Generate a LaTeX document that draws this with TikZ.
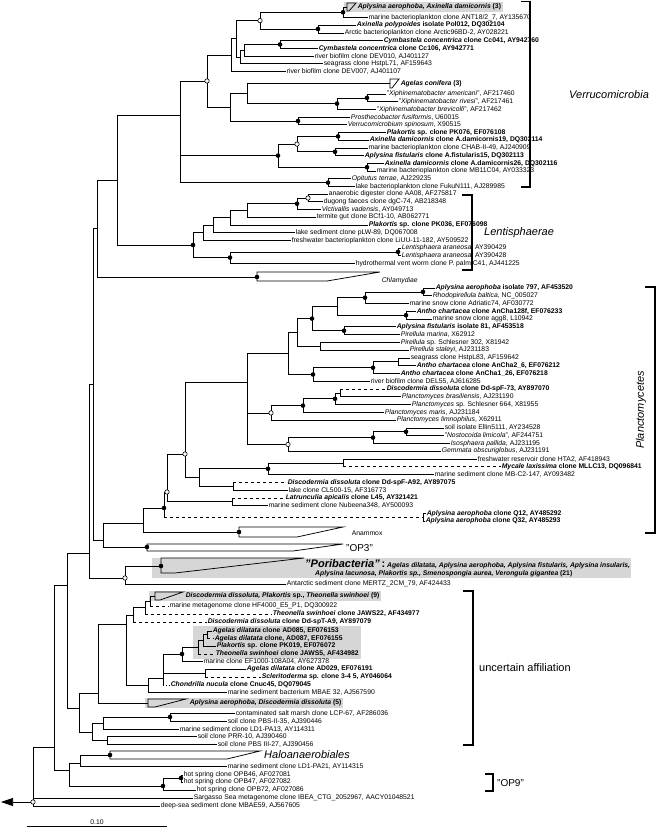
\documentclass[tikz,border=0pt]{standalone}
\usepackage{fontspec}
\setmainfont{Liberation Sans}
\usetikzlibrary{arrows.meta,fit,backgrounds}
\newcommand{\lbl}{\fontsize{6.8}{7.5}\selectfont}
\newcommand{\grpf}{\fontsize{11}{13}\selectfont}
\newcommand{\sponge}[2]{\textbf{\textit{#1}#2}}
\newcommand{\leaf}[5]{\coordinate (#1) at (#3,#4);\draw[br] (#2) |- (#1);\node[lab] (#1l) at (#1) {#5};}
\newcommand{\sleaf}[6]{\coordinate (#2) at (#4,#5);\draw[br] (#3) -- (#3|-#2);\draw[br,#1] (#3|-#2) -- (#2);\node[lab] (#2l) at (#2) {#6};}
\newcommand{\inode}[4]{\coordinate (#1) at (#3,#4);\draw[br] (#2) |- (#1);}
\newcommand{\clade}[8]{\coordinate (#1) at (#3,#8);\draw[br] (#2) |- (#1);\draw[cl] (#3,#4) -- (#7,#4) -- (#6,#5) -- (#3,#5) -- cycle;}
\begin{document}
\begin{tikzpicture}[x=1pt,y=-1pt,
 br/.style={line width=0.75pt},
 cl/.style={line width=0.75pt,line join=miter},
 lab/.style={anchor=west,inner sep=0.6pt,font=\lbl},
 ndot/.style={circle,fill=black,inner sep=0pt,minimum size=4.6pt},
 odot/.style={circle,draw=black,fill=white,line width=0.6pt,inner sep=0pt,minimum size=4.4pt},
 brk/.style={line width=1.3pt},
 grp/.style={inner sep=0pt,font=\grpf},
 hl/.style={fill=black!16,inner sep=1pt}]
\useasboundingbox (0,0) rectangle (664,830);
% ---------- backbone ----------
\coordinate (root) at (33,802);
\inode{N54}{root}{54}{747}
\leaf{sarg}{root}{193}{798}{Sargasso Sea metagenome clone IBEA\_CTG\_2052967, AACY01048521}
\leaf{deep}{root}{160}{806}{deep-sea sediment clone MBAE59, AJ567605}
\coordinate (arr) at (1,802);
\draw[br,-{Triangle[length=12pt,width=8pt]}] (root) -- (arr);
\inode{V}{N54}{67}{585}
\inode{HO}{N54}{69}{770}
\inode{U}{V}{89}{553}
\inode{W}{V}{79}{708}
\inode{S}{U}{93}{384}
\inode{T}{U}{125}{578}
\inode{C2}{S}{97}{228}
\inode{R}{S}{103}{540}
\inode{C1}{C2}{117}{180}
\clade{chl}{C2}{257}{272}{281}{327}{380}{277}
\node[lab] (chll) at (381,281) {\textit{Chlamydiae}};
\inode{VN}{C1}{180}{115}
\inode{L0}{C1}{193}{245}
% ---------- Verrucomicrobia ----------
\inode{I}{VN}{207}{81}
\inode{M5}{VN}{278}{155.6}
\inode{M6}{VN}{328}{182.6}
\inode{H}{I}{231}{55}
\inode{J}{I}{230}{107}
\inode{E}{H}{236}{38.8}
\leaf{v9}{H}{286}{71.4}{river biofilm clone DEV007, AJ401107}
\inode{N1}{E}{260}{20.6}
\inode{F}{E}{240}{57}
\inode{A}{N1}{343}{12.3}
\inode{B}{N1}{318}{29}
\clade{v1}{A}{347}{3}{11}{349}{356}{7}
\node[lab] (v1l) at (357,7) {\textbf{\textit{Aplysina aerophoba, Axinella damicornis} (3)}};
\leaf{v2}{A}{368}{17.5}{marine bacterioplankton clone ANT18/2\_7, AY135670}
\leaf{v3}{B}{356}{25.2}{\sponge{Axinella polypoides}{ isolate Pol012, DQ302104}}
\leaf{v4}{B}{344}{32.9}{Arctic bacterioplankton clone Arctic96BD-2, AY028221}
\inode{G}{F}{244}{50}
\leaf{v8}{F}{323}{63.7}{seagrass clone HstpL71, AF159643}
\inode{Cy}{G}{280}{44.5}
\leaf{v7}{G}{314}{56}{river biofilm clone DEV010, AJ401127}
\leaf{v5}{Cy}{383}{40.6}{\sponge{Cymbastela concentrica}{ clone Cc041, AY942760}}
\leaf{v6}{Cy}{318}{48.3}{\sponge{Cymbastela concentrica}{ clone Cc106, AY942771}}
\inode{K}{J}{247}{93.5}
\inode{Pr}{J}{298}{121}
\clade{v10}{K}{390}{79}{88}{392}{399}{83.5}
\node[lab] (v10l) at (400,83.5) {\textbf{\textit{Agelas conifera} (3)}};
\inode{Xb}{K}{337}{103.6}
\inode{Xa}{Xb}{367}{97.9}
\leaf{v11}{Xa}{386}{94}{"\textit{Xiphinematobacter americani}", AF217460}
\leaf{v12}{Xa}{398}{101.7}{"\textit{Xiphinematobacter rivesi}", AF217461}
\leaf{v13}{Xb}{376}{109.4}{"\textit{Xiphinematobacter brevicolli}", AF217462}
\leaf{v14}{Pr}{350}{117.1}{\textit{Prosthecobacter fusiformis}, U60015}
\leaf{v15}{Pr}{347}{124.8}{\textit{Verrucomicrobium spinosum}, X90515}
\inode{M3}{M5}{297}{144.1}
\inode{M4}{M5}{367}{167.2}
\inode{M1}{M3}{338}{136.4}
\inode{M2}{M3}{335}{151.8}
\leaf{v16}{M1}{386}{132.5}{\sponge{Plakortis}{ sp. clone PK076, EF076108}}
\leaf{v17}{M1}{369}{140.2}{\sponge{Axinella damicornis}{ clone A.damicornis19, DQ302114}}
\leaf{v18}{M2}{368}{147.9}{marine bacterioplankton clone CHAB-II-49, AJ240909}
\leaf{v19}{M2}{364}{155.6}{\sponge{Aplysina fistularis}{ clone A.fistularis15, DQ302113}}
\leaf{v20}{M4}{384}{163.3}{\sponge{Axinella damicornis}{ clone A.damicornis26, DQ302116}}
\leaf{v21}{M4}{376}{171}{marine bacterioplankton clone MB11C04, AY033323}
\leaf{v22}{M6}{351}{178.7}{\textit{Opitutus terrae}, AJ229235}
\leaf{v23}{M6}{355}{186.4}{lake bacterioplankton clone FukuN111, AJ289985}
% ---------- Lentisphaerae ----------
\inode{L1}{L0}{203}{232.7}
\inode{L9}{L0}{230}{257.6}
\inode{L2}{L1}{213}{225}
\leaf{w7}{L1}{291}{240.3}{freshwater bacterioplankton clone LiUU-11-182, AY509522}
\inode{L3}{L2}{230}{217.7}
\leaf{w6}{L2}{295}{232.6}{lake sediment clone pLW-89, DQ067008}
\inode{L4}{L3}{247}{210.5}
\leaf{w5}{L3}{368}{224.9}{\sponge{Plakortis}{ sp. clone PK036, EF076098}}
\inode{L5}{L4}{297}{203.7}
\leaf{w4}{L4}{316}{217.2}{termite gut clone BCf1-10, AB062771}
\inode{L6}{L5}{308}{198}
\leaf{w3}{L5}{321}{209.5}{\textit{Victivallis vadensis}, AY049713}
\leaf{w1}{L6}{328}{194.1}{anaerobic digester clone AA08, AF275817}
\leaf{w2}{L6}{323}{201.8}{dugong faeces clone dgC-74, AB218348}
\inode{Ln}{L9}{398}{251.9}
\leaf{w10}{L9}{355}{263.4}{hydrothermal vent worm clone P. palm C41, AJ441225}
\leaf{w8}{Ln}{401}{248}{\textit{Lentisphaera araneosa}, AY390429}
\leaf{w9}{Ln}{401}{255.7}{\textit{Lentisphaera araneosa}, AY390428}
% ---------- Planctomycetes ----------
\inode{P}{R}{143}{523}
\clade{op3}{R}{147}{544}{551}{293}{343}{547}
\node[inner sep=0pt,anchor=west,font=\fontsize{10}{12}\selectfont] (op3l) at (346,548) {"OP3"};
\inode{Q}{P}{164}{508}
\clade{anx}{P}{239}{527}{537}{297}{343}{532}
\node[lab] (anxl) at (351,533) {Anammox};
\inode{Q1}{Q}{167}{492}
\coordinate (Qa) at (423,517.4);
\draw[br] (Q) -- (Q|-Qa);
\draw[br,dashed] (Q|-Qa) -- (Qa);
\leaf{p30}{Qa}{426}{513.5}{\sponge{Aplysina aerophoba}{ clone Q12, AY485292}}
\leaf{p31}{Qa}{425}{521.2}{\sponge{Aplysina aerophoba}{ clone Q32, AY485293}}
\inode{PY}{Q1}{185}{454}
\inode{LL}{Q1}{232}{501.8}
\sleaf{dashed}{p28}{LL}{285}{497.9}{\sponge{Latrunculia apicalis}{ clone L45, AY321421}}
\leaf{p29}{LL}{268}{505.7}{marine sediment clone Nubeena348, AY500093}
\inode{PX}{PY}{247}{382}
\inode{PZ}{PY}{199}{477.5}
\inode{H1}{PZ}{268}{468.8}
\inode{AA}{PZ}{233}{486.3}
\inode{H2}{H1}{343}{462.9}
\leaf{p25}{H1}{434}{474.6}{marine sediment clone MB-C2-147, AY093482}
\leaf{p23}{H2}{477}{459}{freshwater reservoir clone HTA2, AF418943}
\sleaf{dashed}{p24}{H2}{501}{466.8}{\sponge{Mycale laxissima}{ clone MLLC13, DQ096841}}
\sleaf{dashed}{p26}{AA}{287}{482.4}{\sponge{Discodermia dissoluta}{ clone Dd-spF-A92, AY897075}}
\leaf{p27}{AA}{288}{490.1}{lake clone CL500-15, AF316773}
\inode{PR12}{PX}{288}{353.5}
\inode{PL4}{PX}{271}{412.9}
\inode{G1}{PX}{288}{444.4}
\inode{PR8}{PR12}{297}{332.5}
\inode{PR11}{PR12}{313}{374.5}
\inode{PR6}{PR8}{312}{318.6}
\inode{PR7}{PR8}{320}{346.3}
\inode{PR4}{PR6}{337}{306.5}
\inode{PR5}{PR6}{344}{330.7}
\inode{PR2}{PR4}{365}{297.7}
\inode{PR3}{PR4}{406}{315.2}
\inode{PR1}{PR2}{423}{291.9}
\leaf{p1}{PR1}{435}{288}{\sponge{Aplysina aerophoba}{ isolate 797, AF453520}}
\leaf{p2}{PR1}{432}{295.8}{\textit{Rhodopirellula baltica}, NC\_005027}
\leaf{p3}{PR2}{409}{303.5}{marine snow clone Adriatic74, AF030772}
\leaf{p4}{PR3}{416}{311.3}{\sponge{Antho chartacea}{ clone AnCha128f, EF076233}}
\leaf{p5}{PR3}{432}{319}{marine snow clone agg8, L10942}
\leaf{p6}{PR5}{396}{326.8}{\sponge{Aplysina fistularis}{ isolate 81, AF453518}}
\leaf{p7}{PR5}{400}{334.6}{\textit{Pirellula marina}, X62912}
\leaf{p8}{PR7}{400}{342.4}{\textit{Pirellula} sp. Schlesner 302, X81942}
\leaf{p9}{PR7}{409}{350.2}{\textit{Pirellula staleyi}, AJ231183}
\inode{PR10}{PR11}{373}{367.7}
\leaf{p13}{PR11}{370}{381.2}{river biofilm clone DEL55, AJ616285}
\inode{PR9}{PR10}{398}{361.8}
\leaf{p12}{PR10}{400}{373.5}{\sponge{Antho chartacea}{ clone AnCha1\_26, EF076218}}
\leaf{p10}{PR9}{410}{357.9}{seagrass clone HstpL83, AF159642}
\leaf{p11}{PR9}{416}{365.7}{\sponge{Antho chartacea}{ clone AnCha2\_6, EF076212}}
\inode{PL3}{PL4}{303}{405.6}
\leaf{p18}{PL4}{396}{420.1}{\textit{Planctomyces limnophilus}, X62911}
\inode{PL2}{PL3}{335}{398.8}
\leaf{p17}{PL3}{384}{412.4}{\textit{Planctomyces maris}, AJ231184}
\inode{PL1}{PL2}{340}{392.9}
\leaf{p16}{PL2}{411}{404.6}{\textit{Planctomyces} sp. Schlesner 664, X81955}
\sleaf{dashed}{p14}{PL1}{386}{389}{\sponge{Discodermia dissoluta}{ clone Dd-spF-73, AY897070}}
\leaf{p15}{PL1}{401}{396.8}{\textit{Planctomyces brasiliensis}, AJ231190}
\inode{G2}{G1}{373}{437.6}
\leaf{p22}{G1}{441}{451.2}{\textit{Gemmata obscuriglobus}, AJ231191}
\inode{G3}{G2}{406}{431.8}
\leaf{p21}{G2}{450}{443.4}{\textit{Isosphaera pallida}, AJ231195}
\leaf{p19}{G3}{444}{427.9}{soil isolate Ellin5111, AY234528}
\leaf{p20}{G3}{444}{435.7}{"\textit{Nostocoida limicola}", AF244751}
% ---------- Poribacteria ----------
\clade{pori}{T}{161}{558}{573}{175}{304}{566}
\node[anchor=west,inner sep=0pt] (poril) at (305,564) {\fontsize{11}{12}\selectfont\bfseries\itshape "Poribacteria"\upshape\,:\,\lbl\itshape Agelas dilatata, Aplysina aerophoba, Aplysina fistularis, Aplysina insularis,};
\node[anchor=west,inner sep=0pt] (pori2) at (315,573.5) {\lbl\bfseries\itshape Aplysina lacunosa, Plakortis sp., Smenospongia aurea, Verongula gigantea \upshape(21)};
\leaf{ant}{T}{286}{584}{Antarctic sediment clone MERTZ\_2CM\_79, AF424433}
% ---------- uncertain affiliation ----------
\inode{X}{W}{98}{693}
\inode{Y}{W}{92}{732}
\inode{Z3}{X}{126}{624}
\clade{apl5}{X}{148}{699}{707}{155}{186}{703}
\node[lab] (apl5l) at (189,703) {\textbf{\textit{Aplysina aerophoba, Discodermia dissoluta} (5)}};
\inode{ND2}{Z3}{133}{615}
\inode{Z2}{Z3}{148}{685}
\inode{ND1}{ND2}{145}{607.5}
\sleaf{dashed}{u3}{ND2}{207}{622}{\sponge{Discodermia dissoluta}{ clone Dd-spT-A9, AY897079}}
\inode{ND0}{ND1}{150}{601}
\sleaf{dashed}{u2}{ND1}{272}{614}{\sponge{Theonella swinhoei}{ clone JAWS22, AF434977}}
\clade{disc9}{ND0}{155}{592}{600}{160}{183}{596}
\node[lab] (disc9l) at (185,596) {\textbf{\textit{Discodermia dissoluta, Plakortis} sp., \textit{Theonella swinhoei} (9)}};
\sleaf{dashed}{u1}{ND0}{169}{606}{marine metagenome clone HF4000\_E5\_P1, DQ300922}
\inode{Z1}{Z2}{163}{678}
\leaf{u13}{Z2}{227}{692}{marine sediment bacterium MBAE 32, AJ567590}
\inode{A4}{Z1}{182}{654}
\inode{B1}{Z1}{205}{673}
\sleaf{dotted}{u12}{Z1}{170}{685}{\sponge{Chondrilla nucula}{ clone Cnuc45, DQ079045}}
\inode{A3}{A4}{198}{647}
\leaf{u9}{A4}{203}{661.5}{marine clone EF1000-108A04, AY627378}
\inode{A2}{A3}{203}{640.5}
\sleaf{dashed}{u8}{A3}{215}{654}{\sponge{Theonella swinhoei}{ clone JAWS5, AF434982}}
\inode{A1}{A2}{207}{634.8}
\leaf{u7}{A2}{216}{646.2}{\sponge{Plakortis}{ sp. clone PK019, EF076072}}
\leaf{u5}{A1}{212}{631}{\sponge{Agelas dilatata}{ clone AD085, EF076153}}
\sleaf{dashed}{u6}{A1}{214}{638.5}{\sponge{Agelas dilatata}{ clone, AD087, EF076155}}
\leaf{u10}{B1}{246}{669}{\sponge{Agelas dilatata}{ clone AD029, EF076191}}
\sleaf{dashed}{u11}{B1}{261}{677}{\sponge{Scleritoderma}{ sp. clone 3-4 5, AY046064}}
\inode{Y1}{Y}{103}{723}
\inode{Y2}{Y}{107}{740}
\inode{Yc}{Y1}{170}{717}
\leaf{u16}{Y1}{179}{729}{marine sediment clone LD1-PA13, AY114311}
\leaf{u14}{Yc}{235}{713}{contaminated salt marsh clone LCP-67, AF286036}
\leaf{u15}{Yc}{227}{721}{soil clone PBS-II-35, AJ390446}
\leaf{u17}{Y2}{197}{736}{soil clone PRR-10, AJ390460}
\leaf{u18}{Y2}{217}{744}{soil clone PBS III-27, AJ390456}
% ---------- Haloanaerobiales, OP9 ----------
\inode{HN}{HO}{80}{763}
\inode{OP2}{HO}{163}{786}
\clade{halo}{HN}{110}{751}{759}{227}{260}{755}
\node[grp,anchor=west] (halol) at (264,755) {\textit{Haloanaerobiales}};
\leaf{h1}{HN}{227}{766}{marine sediment clone LD1-PA21, AY114315}
\inode{OP1}{OP2}{181}{778}
\leaf{o3}{OP2}{196}{790}{hot spring clone OPB72, AF027086}
\leaf{o1}{OP1}{183}{775}{hot spring clone OPB46, AF027081}
\leaf{o2}{OP1}{183}{782}{hot spring clone OPB47, AF027082}
% ---------- highlight boxes ----------
\begin{scope}[on background layer]
\coordinate (hb1) at (345,7);
\node[hl,fit=(hb1)(v1l)] (box1) {};
\coordinate (hb2) at (153,566);
\node[hl,fit=(hb2)(poril)(pori2)] (box2) {};
\coordinate (hb3) at (150,596);
\node[hl,fit=(hb3)(disc9l)] (box3) {};
\coordinate (hb4) at (194,628);
\coordinate (hb5) at (194,657);
\node[hl,fit=(hb4)(hb5)(u5l)(u6l)(u7l)(u8l)] (box4) {};
\coordinate (hb6) at (146,703);
\node[hl,fit=(hb6)(apl5l)] (box5) {};
\end{scope}
% ---------- node markers ----------
\foreach \n in {A,B,Cy,Xa,Xb,Pr,M1,M2,M4,M5,M6,L5,Ln,L9,L0,PR1,PR2,PR3,PR5,PR6,PR10,PR11,PL2,PL3,G3,G2,H1,Q,A4,OP1,OP2,Yc,chl,anx,op3,pori,halo}
  \node[ndot] (d\n) at (\n) {};
\foreach \n in {N1,I,M3,L6,PL4,G1,PY,Q1,T,root}
  \node[odot] (o\n) at (\n) {};
% ---------- brackets and group labels ----------
\draw[brk] (521,1.5) -- (530,1.5) -- (530,187) -- (521,187);
\node[grp,anchor=west] (verl) at (569,95) {\textit{Verrucomicrobia}};
\draw[brk] (462,195) -- (472,195) -- (472,270) -- (462,270);
\node[grp,anchor=west] (lenl) at (484,233) {\textit{Lentisphaerae}};
\draw[brk] (645,287) -- (655,287) -- (655,533) -- (645,533);
\node[grp,rotate=90] (plal) at (641,410) {\textit{Planctomycetes}};
\draw[brk] (463,591) -- (473,591) -- (473,745) -- (463,745);
\node[grp,anchor=west] (uncl) at (479,668) {uncertain affiliation};
\draw[brk] (485,774) -- (493,774) -- (493,791) -- (485,791);
\node[inner sep=0pt,anchor=west,font=\fontsize{10}{12}\selectfont] (op9l) at (497,783) {"OP9"};
% ---------- scale bar ----------
\coordinate (sb1) at (27,826);
\coordinate (sb2) at (167,826);
\draw[br] (sb1) -- (sb2);
\node[font=\lbl,anchor=south,inner sep=1.5pt] (sbl) at (97,826) {0.10};
\end{tikzpicture}
\end{document}
